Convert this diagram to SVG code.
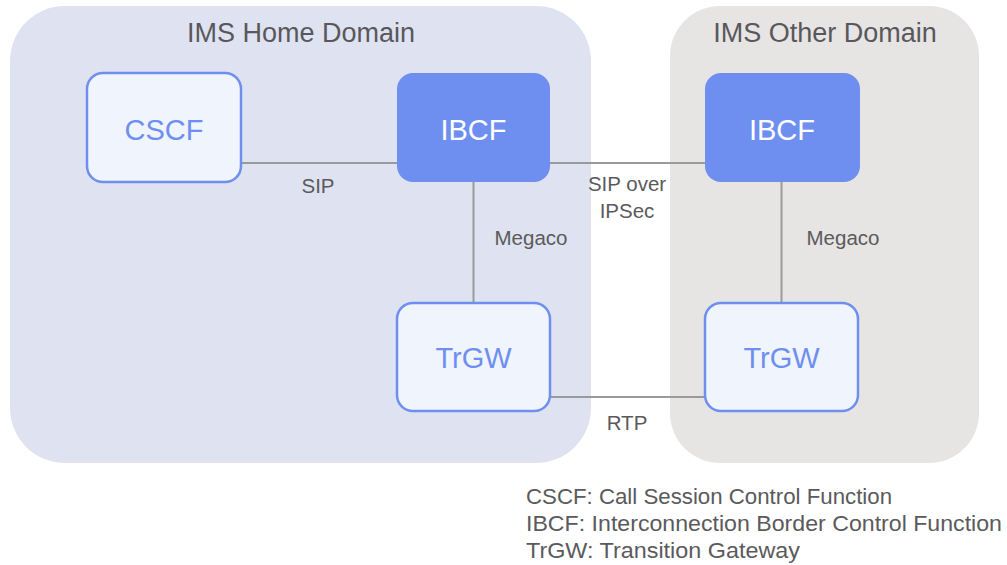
<svg xmlns="http://www.w3.org/2000/svg" width="1007" height="565" viewBox="0 0 1007 565">
  <style>
    text { font-family: "Liberation Sans", Arial, sans-serif; }
    .title { font-size: 27px; fill: #58585c; text-anchor: middle; }
    .lbl { font-size: 20.5px; fill: #5a5a5c; text-anchor: middle; }
    .legend { font-size: 22.5px; fill: #5a5a5c; }
    .solid rect { fill: #6e8ff0; }
    .solid text { fill: #ffffff; font-size: 29px; text-anchor: middle; }
    .light rect { fill: #f0f4fd; stroke: #6e8ff0; stroke-width: 2.5; }
    .light text { fill: #6e8ff0; font-size: 29px; text-anchor: middle; }
    .conn line { stroke: #9a9a9a; stroke-width: 2; }
  </style>
  <rect width="1007" height="565" fill="#ffffff"/>
  <g id="home-domain">
    <rect x="10" y="6" width="581" height="457" rx="55" fill="#dfe3f1"/>
    <text class="title" x="301" y="42">IMS Home Domain</text>
  </g>
  <g id="other-domain">
    <rect x="670" y="6" width="309" height="457" rx="50" fill="#e7e4e4"/>
    <text class="title" x="825" y="42">IMS Other Domain</text>
  </g>
  <g id="connectors" class="conn">
    <line x1="241" y1="163" x2="397" y2="163"/>
    <line x1="550" y1="163" x2="705" y2="163"/>
    <line x1="473.5" y1="182" x2="473.5" y2="303"/>
    <line x1="781.5" y1="182" x2="781.5" y2="303"/>
    <line x1="550" y1="397" x2="705" y2="397"/>
    <text class="lbl" x="318" y="193">SIP</text>
    <text class="lbl" x="627" y="191">SIP over</text>
    <text class="lbl" x="627" y="218">IPSec</text>
    <text class="lbl" x="531" y="245">Megaco</text>
    <text class="lbl" x="843" y="245">Megaco</text>
    <text class="lbl" x="627" y="430">RTP</text>
  </g>
  <g id="cscf" class="light">
    <rect x="87" y="73" width="154" height="109" rx="16"/>
    <text x="164" y="140">CSCF</text>
  </g>
  <g id="ibcf-home" class="solid">
    <rect x="397" y="73" width="153" height="109" rx="16"/>
    <text x="473.5" y="140">IBCF</text>
  </g>
  <g id="ibcf-other" class="solid">
    <rect x="705" y="73" width="155" height="109" rx="16"/>
    <text x="782" y="140">IBCF</text>
  </g>
  <g id="trgw-home" class="light">
    <rect x="397" y="303" width="153" height="108" rx="16"/>
    <text x="473.5" y="368">TrGW</text>
  </g>
  <g id="trgw-other" class="light">
    <rect x="705" y="303" width="153" height="108" rx="16"/>
    <text x="781.5" y="368">TrGW</text>
  </g>
  <g id="legend" class="legend">
    <text x="526" y="504" textLength="366" lengthAdjust="spacingAndGlyphs">CSCF: Call Session Control Function</text>
    <text x="526" y="531" textLength="476" lengthAdjust="spacingAndGlyphs">IBCF: Interconnection Border Control Function</text>
    <text x="526" y="558" textLength="274" lengthAdjust="spacingAndGlyphs">TrGW: Transition Gateway</text>
  </g>
</svg>
